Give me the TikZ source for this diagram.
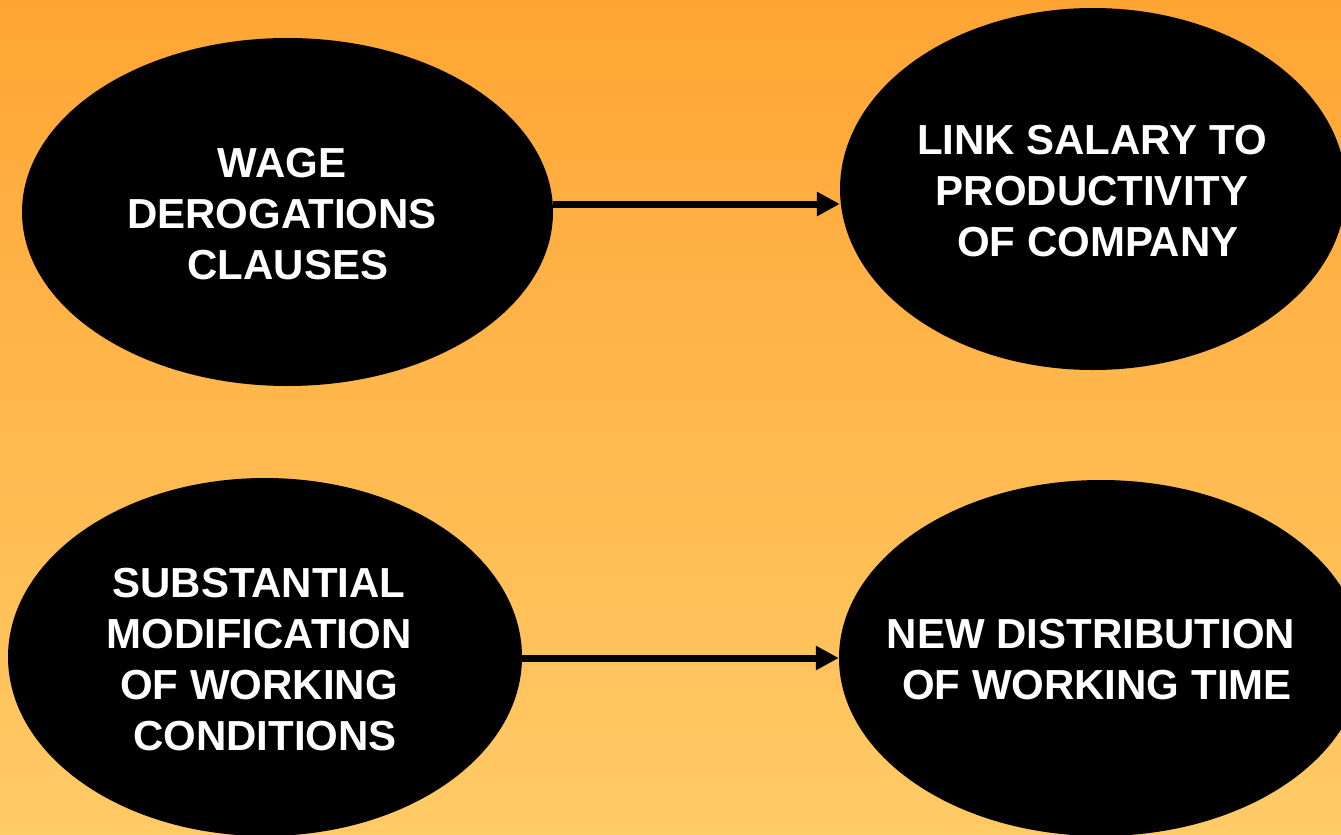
\documentclass[tikz,border=0pt]{standalone}
\usepackage{fontspec}
\setmainfont{Liberation Sans}
\usetikzlibrary{shapes.geometric,arrows.meta}
\definecolor{bgtop}{HTML}{FFA534}
\definecolor{bgbot}{HTML}{FFCB67}
\newcommand{\lead}{\hspace*{11.7pt}}
\begin{document}
\begin{tikzpicture}[x=1pt,y=-1pt,
  blob/.style={ellipse, fill=black, draw=none, inner sep=0pt},
  lbl/.style={text=white, font=\fontsize{42}{51}\selectfont\bfseries, align=center, inner sep=0pt},
  arr/.style={line width=7pt, black, -{Triangle[length=23pt,width=23pt]}}]
\useasboundingbox (0,0) rectangle (1341,835);
\clip (0,0) rectangle (1341,835);
\shade[top color=bgtop, bottom color=bgbot] (0,0) rectangle (1341,835);

\node[blob, minimum width=531pt, minimum height=348pt] (tl) at (287.5,212) {};
\node[blob, minimum width=506pt, minimum height=362pt] (tr) at (1093,189) {};
\node[blob, minimum width=514pt, minimum height=358pt] (bl) at (265,657) {};
\node[blob, minimum width=524pt, minimum height=356pt] (br) at (1101,658) {};

\node[lbl] (tlt) at (282,214) {WAGE\\DEROGATIONS\\\lead CLAUSES};
\node[lbl] (trt) at (1092,191) {LINK SALARY TO\\PRODUCTIVITY\\\lead OF COMPANY};
\node[lbl] (blt) at (259,660) {SUBSTANTIAL\\MODIFICATION\\OF WORKING\\\lead CONDITIONS};
\node[lbl] (brt) at (1091,660) {NEW DISTRIBUTION\\\lead OF WORKING TIME};

\draw[arr] (tl.east |- 0,204) -- (tr.west |- 0,204);
\draw[arr] (bl.east |- 0,658) -- (br.west |- 0,658);
\end{tikzpicture}
\end{document}
